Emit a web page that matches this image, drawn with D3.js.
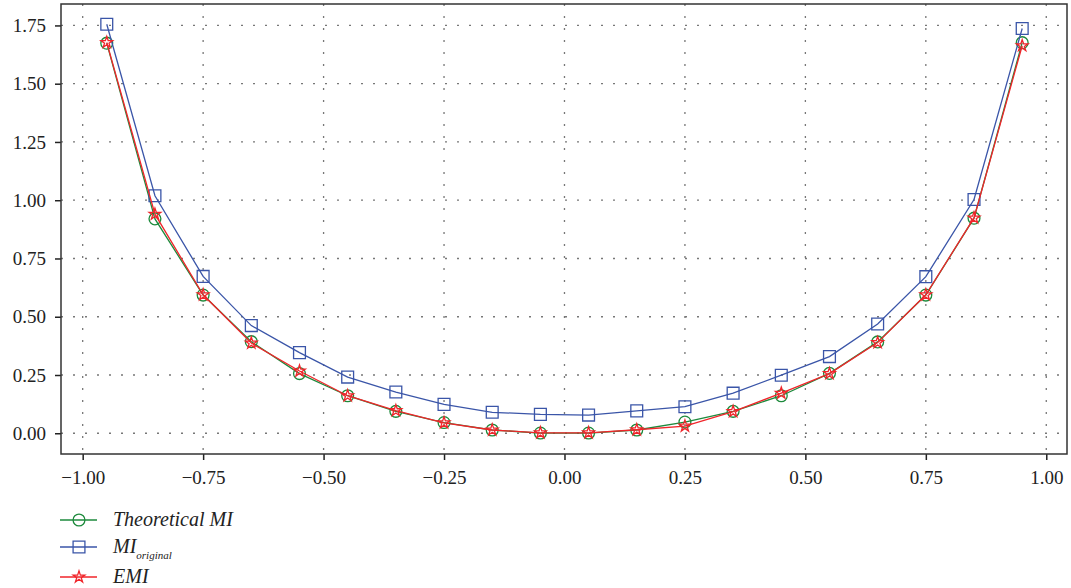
<!DOCTYPE html>
<html>
<head>
<meta charset="utf-8">
<script src="https://cdn.jsdelivr.net/npm/d3@7"></script>
<style>
  body { margin: 0; background: #fff; }
  svg { display: block; }
</style>
</head>
<body>
<svg id="chart" width="1071" height="588"></svg>
<script>
// x positions of the samples
const xs = [-0.95, -0.85, -0.75, -0.65, -0.55, -0.45, -0.35, -0.25, -0.15, -0.05,
            0.05, 0.15, 0.25, 0.35, 0.45, 0.55, 0.65, 0.75, 0.85, 0.95];

const theoretical = [1.674, 0.92, 0.593, 0.393, 0.256, 0.161, 0.094, 0.046, 0.014, 0.001,
                     0.001, 0.014, 0.048, 0.094, 0.161, 0.257, 0.392, 0.593, 0.923, 1.676];
const original = [1.755, 1.019, 0.673, 0.462, 0.346, 0.241, 0.177, 0.124, 0.09, 0.081,
                  0.078, 0.096, 0.114, 0.172, 0.249, 0.329, 0.469, 0.672, 1.003, 1.737];
const emi = [1.677, 0.94, 0.594, 0.387, 0.267, 0.161, 0.097, 0.045, 0.014, 0.002,
             0.002, 0.015, 0.031, 0.093, 0.172, 0.256, 0.389, 0.594, 0.924, 1.663];

const xTicks = [-1, -0.75, -0.5, -0.25, 0, 0.25, 0.5, 0.75, 1];
const yTicks = [0, 0.25, 0.5, 0.75, 1, 1.25, 1.5, 1.75];

const series = [
  { name: "Theoretical MI", values: theoretical, color: "#1d8a3c", symbol: d3.symbolCircle, size: 110 },
  { name: "MI", sub: "original", values: original, color: "#3a55a8", symbol: d3.symbolSquare, size: 140 },
  { name: "EMI", values: emi, color: "#f0252a", symbol: d3.symbolStar, size: 42 },
];

const serif = "'Liberation Serif', 'DejaVu Serif', serif";

const svg = d3.select("#chart");
const margin = { top: 4, right: 4, bottom: 134, left: 61 };
const width = 1071 - margin.left - margin.right;
const height = 588 - margin.top - margin.bottom;

const x = d3.scaleLinear().domain([-1.045, 1.043]).range([0, width]);
const y = d3.scaleLinear().domain([-0.089, 1.842]).range([height, 0]);

const g = svg.append("g").attr("transform", `translate(${margin.left},${margin.top})`);

// dotted grid
g.append("g")
  .selectAll("line")
  .data(xTicks)
  .join("line")
  .attr("x1", d => x(d)).attr("x2", d => x(d))
  .attr("y1", 0).attr("y2", height)
  .attr("stroke", "#777").attr("stroke-width", 1.3)
  .attr("stroke-dasharray", "2,10");
g.append("g")
  .selectAll("line")
  .data(yTicks)
  .join("line")
  .attr("x1", 0).attr("x2", width)
  .attr("y1", d => y(d)).attr("y2", d => y(d))
  .attr("stroke", "#777").attr("stroke-width", 1.3)
  .attr("stroke-dasharray", "2,10");

// axes
const fmt = d3.format(".2f");
const xAxis = g.append("g")
  .attr("transform", `translate(0,${height})`)
  .call(d3.axisBottom(x).tickValues(xTicks).tickFormat(fmt).tickSize(6).tickPadding(11));
const yAxis = g.append("g")
  .call(d3.axisLeft(y).tickValues(yTicks).tickFormat(fmt).tickSize(6).tickPadding(9));
[xAxis, yAxis].forEach(a => {
  a.attr("font-family", null).attr("font-size", null);
  a.select(".domain").remove();
  a.selectAll(".tick line").attr("stroke", "#222").attr("stroke-width", 1.5);
  a.selectAll(".tick text")
    .style("font-family", serif)
    .style("font-size", "19px")
    .attr("fill", "#222");
});

// frame
g.append("rect")
  .attr("width", width).attr("height", height)
  .attr("fill", "none").attr("stroke", "#333").attr("stroke-width", 1.5);

const line = d3.line().x((d, i) => x(xs[i])).y(d => y(d));

series.forEach(s => {
  g.append("path")
    .datum(s.values)
    .attr("d", line)
    .attr("fill", "none")
    .attr("stroke", s.color)
    .attr("stroke-width", 1.3);
  g.append("g")
    .selectAll("path")
    .data(s.values)
    .join("path")
    .attr("transform", (d, i) => `translate(${x(xs[i])},${y(d)})`)
    .attr("d", d3.symbol().type(s.symbol).size(s.size))
    .attr("fill", "none")
    .attr("stroke", s.color)
    .attr("stroke-width", 1.3);
});

// legend
const legend = svg.append("g").attr("transform", "translate(60,520)");
series.forEach((s, i) => {
  const row = legend.append("g").attr("transform", `translate(0,${[0, 27, 57][i]})`);
  row.append("line").attr("x1", 0).attr("x2", 37)
    .attr("stroke", s.color).attr("stroke-width", 1.3);
  row.append("path")
    .attr("transform", "translate(19,0)")
    .attr("d", d3.symbol().type(s.symbol).size(s.size))
    .attr("fill", "none").attr("stroke", s.color).attr("stroke-width", 1.3);
  const t = row.append("text")
    .attr("x", 53).attr("y", 6)
    .style("font-family", serif)
    .style("font-style", "italic")
    .style("font-size", "20px")
    .attr("fill", "#222");
  t.append("tspan").text(s.name);
  if (s.sub) {
    t.append("tspan").attr("dy", 6).style("font-size", "11px").text(s.sub);
  }
});
</script>
</body>
</html>
